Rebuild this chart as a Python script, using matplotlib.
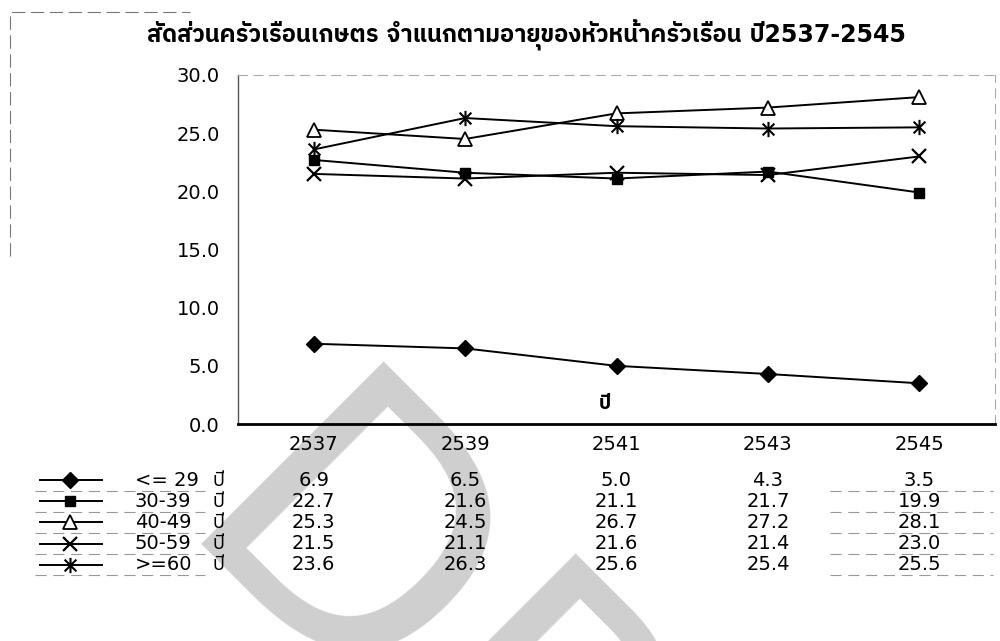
import matplotlib
matplotlib.use('Agg')
import matplotlib.pyplot as plt
from matplotlib import font_manager, transforms
from matplotlib.ft2font import FT2Font
from matplotlib.lines import Line2D
from matplotlib.path import Path


# data
years = ['2537', '2539', '2541', '2543', '2545']
series_names = ['<= 29', '30-39', '40-49', '50-59', '>=60']
age_29 = [6.9, 6.5, 5.0, 4.3, 3.5]
age_30_39 = [22.7, 21.6, 21.1, 21.7, 19.9]
age_40_49 = [25.3, 24.5, 26.7, 27.2, 28.1]
age_50_59 = [21.5, 21.1, 21.6, 21.4, 23.0]
age_60 = [23.6, 26.3, 25.6, 25.4, 25.5]

title = 'สัดส่วนครัวเรือนเกษตร จำแนกตามอายุของหัวหน้าครัวเรือน ปี2537-2545'
unit = 'ปี'


def find_thai_font():
    # cherche une police installée qui contient les glyphes thaï
    found = []
    for f in font_manager.fontManager.ttflist:
        try:
            if 0x0E2A in FT2Font(f.fname).get_charmap():
                found.append(f.name)
        except Exception:
            pass
    for name in found:
        if 'Sans' in name:
            return name
    if found:
        return found[0]
    return 'DejaVu Sans'


thai_font = find_thai_font()
plt.rcParams['font.family'] = ['DejaVu Sans', thai_font]

# marqueur "étoile" façon Excel : un x plus un trait vertical
star = Path([(-1, -1), (1, 1), (-1, 1), (1, -1), (0, -1.3), (0, 1.3)],
            [Path.MOVETO, Path.LINETO, Path.MOVETO, Path.LINETO, Path.MOVETO, Path.LINETO])

styles = [
    dict(marker='D', markersize=8, markerfacecolor='black'),
    dict(marker='s', markersize=7, markerfacecolor='black'),
    dict(marker='^', markersize=10, markerfacecolor='white', markeredgewidth=1.3),
    dict(marker='x', markersize=10, markeredgewidth=1.6),
    dict(marker=star, markersize=11, markeredgewidth=1.5),
]
all_series = [age_29, age_30_39, age_40_49, age_50_59, age_60]

fig = plt.figure(figsize=(10, 6.41), dpi=100)

# filigrane
fig.text(0.166, 0.153, 'DRAFT', rotation=-45, rotation_mode='anchor',
         ha='left', va='baseline', fontsize=255, color='#cfcfcf',
         family='DejaVu Sans', zorder=-1)

ax = fig.add_axes([0.238, 0.3385, 0.757, 0.5445])
ax.set_facecolor('none')

x = list(range(len(years)))
for values, st in zip(all_series, styles):
    ax.plot(x, values, color='black', linewidth=1.4, markeredgecolor='black', **st)

ax.set_xlim(-0.5, len(years) - 0.5)
ax.set_ylim(0, 30)
ax.set_yticks([0, 5, 10, 15, 20, 25, 30])
ax.set_yticklabels([f'{v:.1f}' for v in [0, 5, 10, 15, 20, 25, 30]])
ax.set_xticks(x)
ax.set_xticklabels(years)
ax.tick_params(axis='both', length=0, labelsize=14)
ax.tick_params(axis='y', pad=13)
ax.tick_params(axis='x', pad=8)

ax.spines['left'].set_color('#555555')
ax.spines['left'].set_linewidth(1.0)
ax.spines['bottom'].set_color('black')
ax.spines['bottom'].set_linewidth(2.0)
for side in ['top', 'right']:
    ax.spines[side].set_color('#aaaaaa')
    ax.spines[side].set_linewidth(0.8)
    ax.spines[side].set_linestyle((0, (8, 6)))

ax.text(0.485, 0.06, unit, transform=ax.transAxes, ha='center', va='center',
        fontsize=14, fontweight='bold')

fig.text(0.526, 0.945, title, ha='center', va='center', fontsize=17, fontweight='bold')

# tableau de données sous le graphique
trans = transforms.blended_transform_factory(ax.transData, fig.transFigure)
row_top = 1 - 480 / 641
row_step = 21.2 / 641
for i, (name, values, st) in enumerate(zip(series_names, all_series, styles)):
    y = row_top - i * row_step
    for xi, v in zip(x, values):
        ax.text(xi, y, f'{v:.1f}', transform=trans, ha='center', va='center',
                fontsize=14, clip_on=False)
    fig.text(0.135, y, name, ha='left', va='center', fontsize=14)
    fig.text(0.213, y, unit, ha='left', va='center', fontsize=14)
    fig.add_artist(Line2D([0.040, 0.102], [y, y], transform=fig.transFigure,
                          color='black', linewidth=1.4))
    fig.add_artist(Line2D([0.070], [y], transform=fig.transFigure, color='black',
                          linestyle='none', markeredgecolor='black', **st))
    # restes de bordures du tableau
    yb = y - row_step / 2
    fig.add_artist(Line2D([0.035, 0.205], [yb, yb], transform=fig.transFigure,
                          color='#999999', linewidth=0.8, linestyle=(0, (10, 6))))
    fig.add_artist(Line2D([0.830, 0.993], [yb, yb], transform=fig.transFigure,
                          color='#999999', linewidth=0.8, linestyle=(0, (10, 6))))

# bordure de la zone du graphique (fragments)
fig.add_artist(Line2D([0.010, 0.010, 0.190], [0.6, 0.981, 0.981], transform=fig.transFigure,
                      color='#777777', linewidth=0.8, linestyle=(0, (12, 5))))

fig.savefig('out.png', dpi=100, facecolor='white')
